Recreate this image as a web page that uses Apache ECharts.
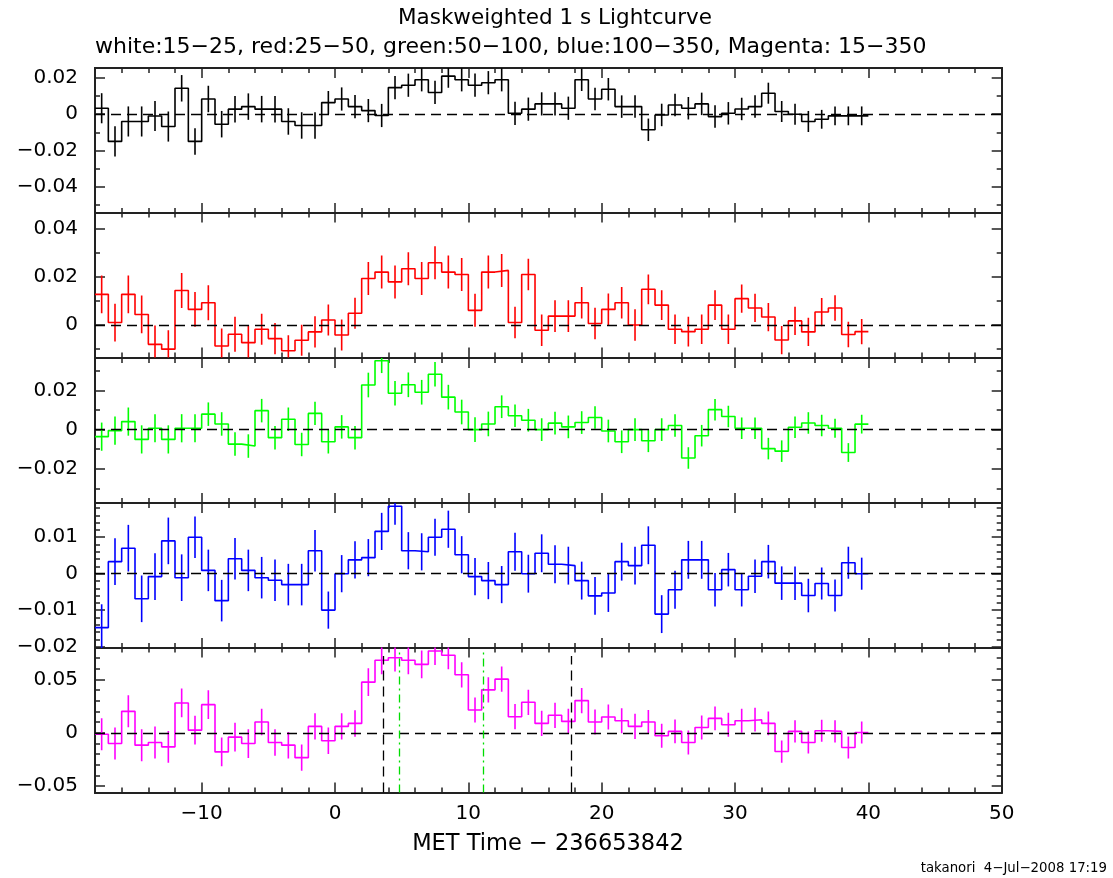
<!DOCTYPE html>
<html><head><meta charset="utf-8">
<script src="https://cdn.jsdelivr.net/npm/echarts@6/dist/echarts.min.js"></script>
<style>html,body{margin:0;padding:0;background:#fff}#c{width:1113px;height:878px}</style>
</head><body><div id="c"></div>
<script>
// ---- data ----
const timeStart = -18;   // left edge of first 1 s bin (MET - 236653842)
const binWidth = 1;

const white = [0.0033, -0.015, -0.004, -0.004, -0.001, -0.0068, 0.0143, -0.015, 0.0084, -0.0055,
 0.0028, 0.0042, 0.0028, 0.0028, -0.004, -0.0062, -0.0062, 0.0064, 0.0084, 0.0042,
 0.002, -0.0007, 0.0147, 0.016, 0.019, 0.012, 0.021, 0.019, 0.016, 0.0174,
 0.019, 0.0005, 0.0028, 0.0057, 0.0057, 0.0033, 0.019, 0.0084, 0.0138, 0.0042,
 0.0042, -0.0086, -0.0004, 0.0051, 0.0033, 0.0057, -0.0013, 0.0005, 0.0029, 0.0042,
 0.0116, 0.0015, 0, -0.004, -0.0028, -0.0009, -0.0009, -0.0009];
const whiteErr = [0.0083,0.0083,0.0083,0.0083,0.0083,0.0083,
 0.0073,0.0073,0.0073,0.0073,0.0073,0.0073,0.0073,0.0073,0.0073,0.0073,0.0073,
 0.0064,0.0064,0.0064,0.0064,0.0064,0.0064,0.0064,0.0064,0.0064,0.0064,0.0064,0.0064,0.0064,0.0064,0.0064,0.0064,0.0064,0.0064,0.0064,
 0.0062,0.0062,0.0062,0.0062,0.0062,0.0062,0.0062,0.0062,0.0062,0.0062,0.0062,0.0062,0.0062,0.0062,
 0.0058,0.0058,0.0058,0.0058, 0.0052,0.0052,0.0052,0.0052];

const red = [0.0128, 0.001, 0.0128, 0.0044, -0.0081, -0.0101, 0.0144, 0.0065, 0.0093, -0.0088,
 -0.0039, -0.0074, -0.0018, -0.0057, -0.0108, -0.0064, -0.0029, 0.0021, -0.0042, 0.0049,
 0.0194, 0.0221, 0.018, 0.0235, 0.0194, 0.026, 0.0221, 0.0211, 0.0061, 0.0221,
 0.0228, 0.001, 0.0211, -0.0022, 0.0037, 0.0037, 0.0093, 0.0006, 0.0065, 0.0093,
 0, 0.0149, 0.0083, -0.0018, -0.0028, -0.0018, 0.0083, -0.0018, 0.011, 0.0071,
 0.0033, -0.0063, 0.0017, -0.0029, 0.0054, 0.0071, -0.004, -0.0028];
const redErr = [0.0079,0.0079,0.0079,0.0079,0.0079,0.0079,
 0.0073,0.0073,0.0073,0.0073,0.0073,0.0073,
 0.0065,0.0065,0.0065,0.0065,0.0065,0.0065,0.0065,0.0065,
 0.0069,0.0069,0.0069,0.0069,0.0069,0.0069,0.0069,0.0069,0.0069,0.0069,0.0069,
 0.0066,0.0066,0.0066,0.0066,0.0066,0.0066,0.0066,0.0066,0.0066,0.0066,
 0.0062,0.0062,0.0062,0.0062,0.0062,0.0062,0.0062,
 0.0059,0.0059,0.0059,0.0059,0.0059,0.0059,0.0059,
 0.0053,0.0053,0.0053];

const green = [-0.0036, -0.0005, 0.0041, -0.005, 0.0007, -0.005, 0.0007, 0.0007, 0.0079, 0.0029,
 -0.0074, -0.0084, 0.0097, -0.0041, 0.0053, -0.0076, 0.0083, -0.0062, 0.0014, -0.0041,
 0.0228, 0.0352, 0.0186, 0.0229, 0.0191, 0.0283, 0.0166, 0.009, 0, 0.0029,
 0.0117, 0.0071, 0.0048, 0, 0.0033, 0.0014, 0.0036, 0.0062, -0.0007, -0.0062,
 0, -0.0057, 0, 0.0021, -0.0145, -0.0031, 0.0102, 0.0067, 0.0007, 0.0007,
 -0.0097, -0.011, 0.0012, 0.0034, 0.0021, 0.0007, -0.0117, 0.0028];
const greenErr = [0.0072,0.0072,0.0072,0.0072,0.0072,0.0072,0.0072,0.0072,
 0.006,0.006,0.006,0.006,0.006,0.006,0.006,0.006,0.006,0.006,0.006,0.006,
 0.0063,0.0063,0.0063,0.0063,0.0063,0.0063,0.0063,0.0063,0.0063,0.0063,
 0.0058,0.0058,0.0058,0.0058,0.0058,0.0058,0.0058,0.0058,0.0058,0.0058,0.0058,0.0058,0.0058,0.0058,
 0.0055,0.0055,0.0055,0.0055,0.0055,0.0055,0.0055,0.0055,0.0055,0.0055,0.0055,
 0.0048,0.0048,0.0048];

const blue = [-0.0148, 0.0033, 0.007, -0.0069, -0.0008, 0.009, -0.0011, 0.01, 0.0009, -0.0074,
 0.0041, 0.0009, -0.0011, -0.0018, -0.003, -0.003, 0.0063, -0.01, 0, 0.0038,
 0.0044, 0.0116, 0.0185, 0.0063, 0.006, 0.01, 0.0122, 0.0052, -0.0008, -0.0019,
 -0.003, 0.006, 0, 0.0056, 0.0026, 0.0022, -0.0019, -0.0061, -0.0053, 0.0033,
 0.0022, 0.0078, -0.0111, -0.0044, 0.0038, 0.0038, -0.0044, 0.0011, -0.0044, -0.0007,
 0.0033, -0.0026, -0.0026, -0.006, -0.0027, -0.006, 0.003, 0];
const blueErr = [0.0064,0.0064,0.0064,0.0064,0.0064,0.0064,0.0064,
 0.0057,0.0057,0.0057,0.0057,0.0057,0.0057,0.0057,0.0057,0.0057,0.0057,
 0.0051,0.0051,0.0051,0.0051,0.0051,0.0051,0.0051,0.0051,0.0051,0.0051,0.0051,0.0051,0.0051,0.0051,
 0.0052,0.0052,0.0052,0.0052,0.0052,0.0052,0.0052,0.0052,0.0052,0.0052,0.0052,0.0052,0.0052,0.0052,0.0052,
 0.0046,0.0046,0.0046,0.0046,0.0046,0.0046,0.0046,0.0046,
 0.0044,0.0044,0.0044,0.0044];

const magenta = [-0.0013, -0.0101, 0.0201, -0.0116, -0.0091, -0.0132, 0.028, 0.0025, 0.0264, -0.0179,
 -0.0041, -0.0101, 0.0101, -0.0091, -0.0116, -0.0233, 0.006, -0.0075, 0.006, 0.0088,
 0.0475, 0.068, 0.0704, 0.068, 0.0642, 0.0767, 0.0727, 0.0544, 0.0214, 0.0403,
 0.0503, 0.0151, 0.0286, 0.0088, 0.0164, 0.0107, 0.0302, 0.0101, 0.0148, 0.0113,
 0.006, 0.0101, -0.0028, 0.0013, -0.0091, 0.005, 0.0135, 0.0075, 0.0113, 0.0123,
 0.0088, -0.0176, 0.0013, -0.0091, 0.0019, 0.0013, -0.0138, 0.0003];
const magentaErr = [0.015,0.015,0.015,0.015,0.015,0.015,
 0.0135,0.0135,0.0135,0.0135,0.0135,0.0135,
 0.0124,0.0124,0.0124,0.0124,0.0124,0.0124,0.0124,0.0124,
 0.013,0.013,0.013,0.013,0.013,0.013,0.013,
 0.0118,0.0118,0.0118,0.0118,0.0118,0.0118,0.0118,0.0118,0.0118,0.0118,0.0118,0.0118,0.0118,0.0118,
 0.0112,0.0112,0.0112,0.0112,0.0112,0.0112,0.0112,0.0112,0.0112,0.0112,
 0.0104,0.0104,0.0104,0.0104,0.0104,0.0104,0.0104];

// interval markers in the 15-350 panel
const blackMarkers = [3.63, 17.75];
const greenMarkers = [4.83, 11.13];

// ticks
const xMajor = [-10, 0, 10, 20, 30, 40, 50];
const xMinor = [-16, -14, -12, -8, -6, -4, -2, 2, 4, 6, 8, 12, 14, 16, 18, 22, 24, 26, 28, 32, 34, 36, 38, 42, 44, 46, 48];
const yMajor1 = [-0.04, -0.02, 0, 0.02];
const yMinor1 = [-0.05, -0.03, -0.01, 0.01];
const yMajor2 = [0, 0.02, 0.04];
const yMinor2 = [-0.01, 0.01, 0.03];
const yMajor3 = [-0.02, 0, 0.02];
const yMinor3 = [-0.03, -0.01, 0.01, 0.03];
const yMajor4 = [-0.02, -0.01, 0, 0.01];
const yMinor4 = [-0.018, -0.016, -0.014, -0.012, -0.008, -0.006, -0.004, -0.002, 0.002, 0.004, 0.006, 0.008, 0.012, 0.014, 0.016, 0.018];
const yMajor5 = [-0.05, 0, 0.05];
const yMinor5 = [-0.04, -0.03, -0.02, -0.01, 0.01, 0.02, 0.03, 0.04, 0.06, 0.07];

// ---- layout / style ----
const FONT = '"DejaVu Sans", sans-serif';
const xMin = -18, xMax = 50;
const panels = [
  {vals: white, err: whiteErr, color: '#000000', min: -0.0545, max: 0.0255, major: yMajor1, minor: yMinor1, top: 68},
  {vals: red, err: redErr, color: '#ff0000', min: -0.0136, max: 0.047, major: yMajor2, minor: yMinor2, top: 212.5},
  {vals: green, err: greenErr, color: '#00ff00', min: -0.0375, max: 0.0366, major: yMajor3, minor: yMinor3, top: 358},
  {vals: blue, err: blueErr, color: '#0000ff', min: -0.0204, max: 0.0194, major: yMajor4, minor: yMinor4, top: 503},
  {vals: magenta, err: magentaErr, color: '#ff00ff', min: -0.056, max: 0.080, major: yMajor5, minor: yMinor5, top: 647.5}
];
const PH = 145;
const AXC = '#222';
const TICKFONT = 20;
const fmt = v => v === 0 ? '0' : (v < 0 ? '\u2212' : '') + String(Math.abs(v));

const grids = [], xAxes = [], yAxes = [], series = [];
panels.forEach((p, k) => {
  grids.push({left: 95, right: 111.3, top: p.top, height: PH});
  const xb = {gridIndex: k, type: 'value', min: xMin, max: xMax, splitLine: {show: false},
    axisLine: {onZero: false, lineStyle: {color: AXC, width: 2}}};
  const tk = (vals, len) => ({show: true, inside: true, length: len, customValues: vals, lineStyle: {color: AXC, width: 1.5}});
  xAxes.push(Object.assign({}, xb, {position: 'bottom', axisTick: tk(xMajor, 10),
    axisLabel: {show: k === 4, customValues: xMajor, formatter: fmt, fontSize: TICKFONT, fontFamily: FONT, color: '#000', margin: 11}}));
  xAxes.push(Object.assign({}, xb, {position: 'bottom', axisTick: tk(xMinor, 5), axisLabel: {show: false}}));
  xAxes.push(Object.assign({}, xb, {position: 'top', axisTick: tk(xMajor, 10), axisLabel: {show: false}}));
  xAxes.push(Object.assign({}, xb, {position: 'top', axisTick: tk(xMinor, 5), axisLabel: {show: false}}));
  const yb = {gridIndex: k, type: 'value', min: p.min, max: p.max, splitLine: {show: false},
    axisLine: {onZero: false, lineStyle: {color: AXC, width: 2}}};
  yAxes.push(Object.assign({}, yb, {position: 'left', axisTick: tk(p.major, 10),
    axisLabel: {show: true, customValues: p.major, formatter: fmt, fontSize: TICKFONT, fontFamily: FONT, color: '#000', margin: 17}}));
  yAxes.push(Object.assign({}, yb, {position: 'left', axisTick: tk(p.minor, 5), axisLabel: {show: false}}));
  yAxes.push(Object.assign({}, yb, {position: 'right', axisTick: tk(p.major, 10), axisLabel: {show: false}}));
  yAxes.push(Object.assign({}, yb, {position: 'right', axisTick: tk(p.minor, 5), axisLabel: {show: false}}));

  // step line: one point at each bin's left edge, plus the closing right edge
  const stepData = p.vals.map((v, i) => [timeStart + binWidth * i, v]);
  stepData.push([timeStart + binWidth * p.vals.length, p.vals[p.vals.length - 1]]);
  const mlData = [{yAxis: 0}];
  if (k === 4) {
    blackMarkers.forEach(t => mlData.push([{coord: [t, p.min]}, {coord: [t, 0.072], lineStyle: {color: '#000', type: [10, 6], width: 1.3}}]));
    greenMarkers.forEach(t => mlData.push([{coord: [t, p.min]}, {coord: [t, 0.0755], lineStyle: {color: '#00dd00', type: [8, 4, 2, 4], width: 1.3}}]));
  }
  series.push({
    type: 'line', xAxisIndex: 4 * k, yAxisIndex: 4 * k, data: stepData, step: 'end',
    showSymbol: false, symbol: 'none', lineStyle: {color: p.color, width: 1.6}, itemStyle: {color: p.color},
    animation: false, silent: true, z: 3,
    markLine: {silent: true, symbol: 'none', animation: false, label: {show: false},
      lineStyle: {color: '#000', type: [10, 6], width: 1.3}, data: mlData}
  });
  series.push({
    type: 'custom', xAxisIndex: 4 * k, yAxisIndex: 4 * k, clip: true, silent: true, animation: false, z: 3,
    data: p.vals.map((v, i) => [timeStart + binWidth * (i + 0.5), v, p.err[i]]),
    encode: {x: 0, y: 1},
    renderItem: (params, api) => {
      const x = api.value(0), y = api.value(1), e = api.value(2);
      const a = api.coord([x, y - e]), b = api.coord([x, y + e]);
      return {type: 'line', shape: {x1: a[0], y1: a[1], x2: b[0], y2: b[1]}, style: {stroke: p.color, lineWidth: 1.6}};
    }
  });
});

const txt = (x, y, text, size, align) => ({type: 'text', x: x, y: y, silent: true,
  style: {text: text, font: size + 'px ' + FONT, fill: '#000', textAlign: align, textVerticalAlign: 'middle', align: align, verticalAlign: 'middle'}});

const chart = echarts.init(document.getElementById('c'), null, {renderer: 'canvas'});
chart.setOption({
  backgroundColor: '#fff',
  animation: false,
  textStyle: {fontFamily: FONT},
  grid: grids, xAxis: xAxes, yAxis: yAxes, series: series,
  graphic: [
    txt(555, 18, 'Maskweighted 1 s Lightcurve', 21.5, 'center'),
    txt(95, 47, 'white:15\u221225, red:25\u221250, green:50\u2212100, blue:100\u2212350, Magenta: 15\u2212350', 22, 'left'),
    txt(548, 844, 'MET Time \u2212 236653842', 22.5, 'center'),
    txt(1107, 869, 'takanori  4\u2212Jul\u22122008 17:19', 13.3, 'right')
  ]
});
</script></body></html>
